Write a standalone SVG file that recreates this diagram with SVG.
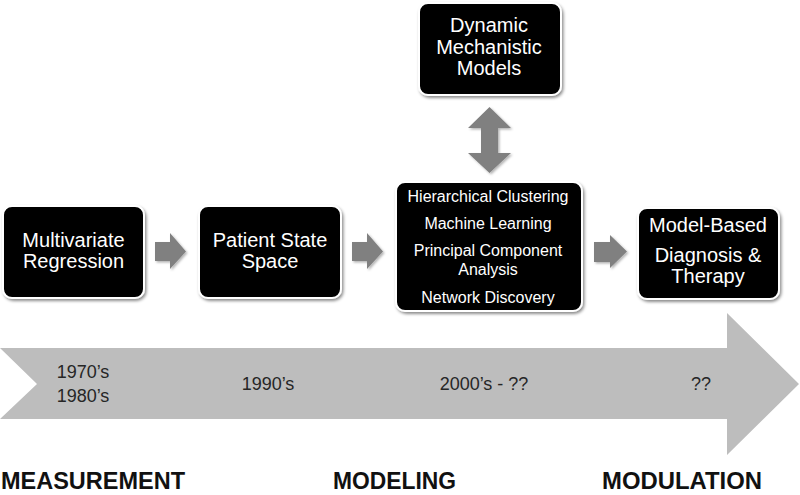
<svg xmlns="http://www.w3.org/2000/svg" width="800" height="495" viewBox="0 0 800 495">
<defs>
<filter id="sh" x="-10%" y="-10%" width="125%" height="130%">
<feDropShadow dx="1.5" dy="2" stdDeviation="1.5" flood-color="#000" flood-opacity="0.45"/>
</filter>
<filter id="ash" x="-20%" y="-20%" width="150%" height="150%">
<feDropShadow dx="1.5" dy="1.5" stdDeviation="1" flood-color="#000" flood-opacity="0.3"/>
</filter>
</defs>
<style>
.box{fill:#000;stroke:#fff;stroke-width:2;filter:url(#sh)}
.t{font-family:"Liberation Sans",Arial,sans-serif;fill:#fff;text-anchor:middle}
.big{font-size:20px}
.sm{font-size:16px}
.arr{fill:#808080;filter:url(#ash)}
.tl{font-family:"Liberation Sans",Arial,sans-serif;font-size:18px;fill:#262626;text-anchor:middle}
.lab{font-family:"Liberation Sans",Arial,sans-serif;font-size:23px;font-weight:bold;fill:#111}
</style>
<rect width="800" height="495" fill="#fff"/>
<g id="timeline">
<path d="M0,348 L727,348 L727,313 L799,384 L727,455 L727,419 L0,419 L37,384 Z" fill="#bdbdbd"/>
<text class="tl" x="83" y="378">1970’s</text>
<text class="tl" x="83" y="402">1980’s</text>
<text class="tl" x="268" y="390">1990’s</text>
<text class="tl" x="484" y="390">2000’s - ??</text>
<text class="tl" x="701" y="390">??</text>
</g>
<g id="connectors">
<path class="arr" d="M155,242 L170,242 L170,233 L186,251.5 L170,269 L170,261 L155,261 Z"/>
<path class="arr" d="M352,242 L367,242 L367,233 L383,251.5 L367,269 L367,261 L352,261 Z"/>
<path class="arr" d="M594,242 L610,242 L610,235 L627,251.5 L610,268 L610,262 L594,262 Z"/>
<path class="arr" d="M489.5,107 L511,128 L498,128 L498,153 L511,153 L489.5,173 L468,153 L481,153 L481,128 L468,128 Z"/>
</g>
<g id="node-multivariate">
<rect class="box" x="3" y="206" width="141" height="92" rx="9"/>
<text class="t big" x="73.5" y="247">Multivariate</text>
<text class="t big" x="73.5" y="268">Regression</text>
</g>
<g id="node-patient">
<rect class="box" x="199" y="206" width="142" height="92" rx="9"/>
<text class="t big" x="270" y="247">Patient State</text>
<text class="t big" x="270" y="268">Space</text>
</g>
<g id="node-dynamic">
<rect class="box" x="419" y="3" width="142" height="92" rx="9"/>
<text class="t big" x="489" y="32">Dynamic</text>
<text class="t big" x="489" y="54">Mechanistic</text>
<text class="t big" x="489" y="75">Models</text>
</g>
<g id="node-methods">
<rect class="box" x="396" y="182" width="186" height="129" rx="9"/>
<text class="t sm" x="488" y="202">Hierarchical Clustering</text>
<text class="t sm" x="488" y="229">Machine Learning</text>
<text class="t sm" x="488" y="256">Principal Component</text>
<text class="t sm" x="488" y="275">Analysis</text>
<text class="t sm" x="488" y="303">Network Discovery</text>
</g>
<g id="node-modelbased">
<rect class="box" x="638" y="208" width="141" height="91" rx="9"/>
<text class="t big" x="708" y="232">Model-Based</text>
<text class="t big" x="708" y="262">Diagnosis &amp;</text>
<text class="t big" x="708" y="283">Therapy</text>
</g>
<g id="labels">
<text class="lab" x="1" y="489" textLength="184" lengthAdjust="spacingAndGlyphs">MEASUREMENT</text>
<text class="lab" x="333" y="489" textLength="123" lengthAdjust="spacingAndGlyphs">MODELING</text>
<text class="lab" x="602" y="489" textLength="160" lengthAdjust="spacingAndGlyphs">MODULATION</text>
</g>
</svg>
